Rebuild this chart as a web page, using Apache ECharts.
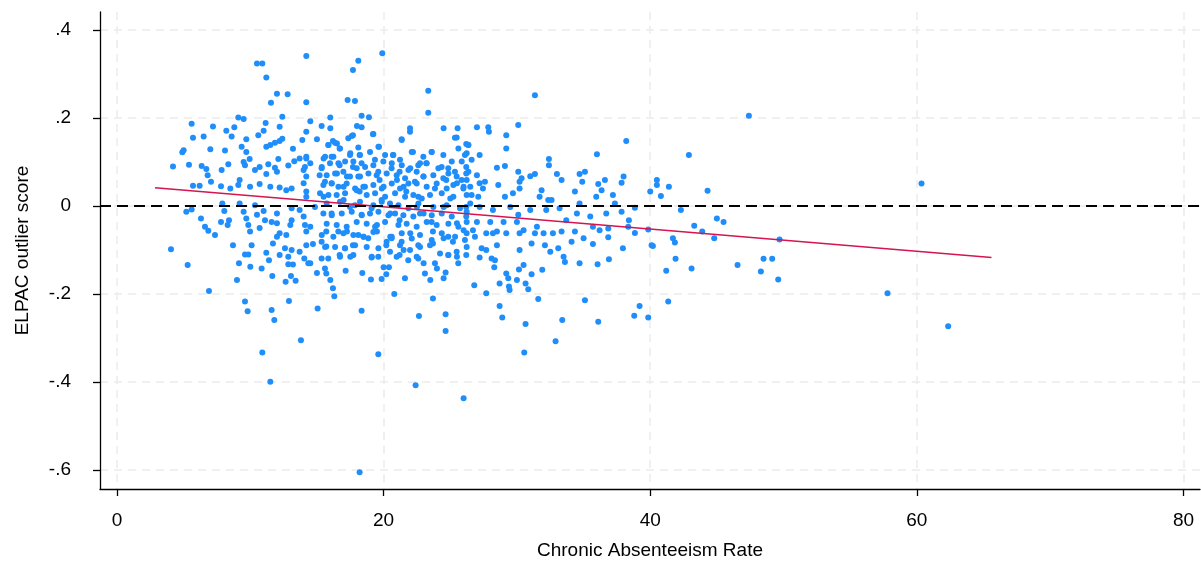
<!DOCTYPE html>
<html>
<head>
<meta charset="utf-8">
<title>ELPAC outlier score</title>
<script src="https://cdn.jsdelivr.net/npm/echarts@6/dist/echarts.min.js"></script>
</head>
<body style="margin:0">
<div id="main" style="width:1201px;height:568px;"></div>
<script>
// axis ticks
var xTicks = [0, 20, 40, 60, 80];
var yTicks = [-0.6, -0.4, -0.2, 0, 0.2, 0.4];

// fitted line
var fitX = [2.85, 65.6];
var fitY = [0.0417, -0.117];

// [chronic absenteeism rate, ELPAC outlier score], one per school
var schools = [
  [14.2,.341],[10.5,.324],[10.9,.324],[11.2,.292],[12.0,.255],[12.8,.254],[11.55,.235],[14.2,.236],
  [5.6,.187],[7.2,.181],[9.1,.201],[9.5,.198],[11.15,.189],[12.4,.203],[8.2,.171],[8.8,.179],[12.2,.180],
  [5.7,.155],[6.5,.158],[8.6,.158],[9.7,.152],[10.6,.161],[11.0,.171],[13.9,.150],[5.0,.127],[4.9,.122],
  [7.0,.129],[8.1,.126],[9.35,.135],[9.7,.123],[11.2,.135],[11.5,.139],[11.85,.144],[12.2,.148],[12.4,.153],
  [13.2,.13],[4.2,.09],[5.4,.094],[6.35,.091],[6.7,.084],[6.8,.07],[7.85,.082],[8.35,.095],[9.5,.1],
  [9.6,.093],[9.95,.107],[10.35,.082],[10.7,.089],[11.35,.095],[11.2,.073],[11.85,.087],[12.1,.107],
  [12.0,.078],[12.85,.092],[13.3,.102],[13.7,.108],[14.2,.112],[14.1,.089],[14.2,.067],[5.7,.046],
  [6.2,.046],[7.05,.055],[7.8,.045],[8.5,.04],[9.1,.048],[9.2,.059],[9.98,.044],[10.7,.05],[11.5,.044],
  [12.2,.042],[12.7,.036],[13.1,.04],[14.0,.052],[14.2,.033],[5.2,-.013],[5.6,-.008],[6.3,-.028],
  [6.6,-.047],[6.85,-.056],[7.35,-.066],[7.9,.006],[8.05,-.011],[7.8,-.036],[8.4,-.032],[8.3,-.043],
  [9.2,.006],[9.5,-.013],[9.7,-.028],[9.85,-.043],[9.98,-.058],[10.35,.002],[10.5,-.02],[11.0,-.011],
  [11.1,-.032],[10.7,-.05],[11.6,-.036],[12.0,-.017],[12.0,-.039],[12.2,-.062],[12.7,-.066],[13.0,-.043],
  [13.1,-.032],[13.1,-.005],[13.7,-.009],[14.0,-.024],[14.1,-.043],[14.2,-.058],
  [19.9,.347],[18.1,.33],[17.7,.309],[23.35,.262],[17.3,.241],[17.85,.239],[23.35,.212],[14.5,.193],
  [15.35,.182],[16.0,.177],[16.0,.201],[18.35,.205],[18.9,.202],[18.0,.182],[18.35,.179],[14.2,.169],
  [15.0,.152],[16.2,.148],[16.5,.142],[17.35,.154],[17.7,.161],[19.2,.163],[21.35,.152],[21.98,.177],
  [24.5,.177],[25.55,.177],[25.35,.155],[26.2,.141],[19.65,.135],[18.1,.133],[15.85,.139],[16.7,.131],
  [17.5,.12],[18.2,.116],[14.2,.108],[14.5,.097],[14.0,.082],[15.5,.108],[16.1,.112],[15.35,.086],
  [15.2,.07],[15.6,.055],[16.1,.052],[16.7,.093],[16.5,.074],[17.0,.044],[17.25,.067],[17.7,.089],
  [18.35,.097],[18.1,.067],[18.6,.044],[18.2,.033],[19.35,.105],[19.6,.078],[19.7,.059],[20.0,.044],
  [20.7,.116],[20.6,.086],[21.2,.078],[21.0,.059],[21.5,.044],[22.2,.123],[22.0,.086],[22.6,.093],
  [23.2,.097],[23.0,.067],[22.35,.055],[21.7,.033],[23.6,.123],[24.35,.089],[24.85,.086],[25.35,.078],
  [24.7,.059],[25.5,.052],[23.85,.04],[26.1,.116],[26.2,.089],[26.0,.044],[14.2,.021],[14.85,-.002],
  [15.5,.021],[16.1,-.017],[17.0,.014],[17.85,.002],[18.35,-.02],[19.1,-.005],[19.85,.014],[20.5,-.017],
  [21.2,-.032],[22.6,.021],[22.5,-.002],[23.0,-.017],[23.6,-.036],[24.5,-.002],[25.0,.017],[25.5,-.039],
  [26.2,-.002],[14.5,-.047],[15.7,-.058],[17.25,-.058],[18.5,-.07],[19.5,-.043],[20.5,-.07],[22.0,-.062],
  [23.7,-.058],[24.85,-.07],[26.0,-.055],
  [31.35,.252],[27.0,.179],[27.85,.179],[27.9,.169],[30.1,.184],[29.2,.161],[38.2,.148],[26.35,.139],
  [27.2,.116],[26.6,.105],[29.2,.131],[36.0,.118],[32.4,.107],[32.4,.093],[28.5,.087],[29.1,.091],
  [30.1,.078],[30.35,.063],[30.2,.055],[31.35,.073],[31.0,.068],[33.0,.073],[33.35,.059],[34.7,.073],
  [35.1,.078],[34.9,.055],[36.1,.05],[36.6,.059],[38.0,.067],[37.85,.053],[26.2,.074],[25.85,.059],
  [27.0,.07],[27.2,.052],[27.6,.055],[27.45,.04],[26.5,.044],[26.6,.025],[27.1,.021],[28.6,.048],
  [29.1,.021],[29.7,.029],[30.2,.04],[31.85,.036],[31.7,.021],[32.35,.014],[32.6,.014],[34.35,.033],
  [34.7,.006],[35.95,.021],[36.35,.036],[37.2,.025],[37.35,.006],[36.7,-.017],[37.85,-.013],[26.5,.006],
  [27.2,-.002],[28.2,-.009],[29.5,-.002],[30.1,-.02],[31.0,-.009],[32.2,-.009],[33.2,-.005],[34.5,-.017],
  [35.5,-.024],[26.2,-.024],[27.0,-.036],[28.0,-.036],[29.0,-.036],[30.0,-.036],[30.5,-.055],[31.5,-.047],
  [32.7,-.062],[33.7,-.032],[34.35,-.058],[35.7,-.047],[36.85,-.051],[26.7,-.055],[27.7,-.062],
  [28.5,-.058],[29.2,-.062],[31.35,-.062],[32.0,-.062],
  [47.4,.205],[42.9,.116],[40.5,.059],[40.5,.048],[40.8,.023],[40.0,.033],[41.4,.044],[44.3,.035],
  [38.85,-.004],[42.3,-.009],[45.0,-.028],[45.5,-.036],[38.4,-.032],[38.35,-.047],[38.85,-.061],
  [39.85,-.053],[43.3,-.045],[43.9,-.058],[41.7,-.073],[44.8,-.073],[49.7,-.076],
  [37.95,-.096],[40.1,-.089],[40.2,-.091],[41.85,-.083],[41.9,-.12],[41.2,-.147],[43.1,-.142],
  [46.55,-.134],[48.5,-.12],[49.15,-.12],[48.3,-.149],[49.6,-.167],[39.2,-.227],[38.8,-.249],
  [39.85,-.253],[41.35,-.217],[60.35,.051],[57.8,-.198],[62.35,-.273],
  [4.05,-.098],[5.3,-.134],[6.9,-.193],[8.7,-.089],[9.15,-.13],[9.0,-.168],[9.6,-.11],[9.85,-.11],
  [10.1,-.089],[10.0,-.138],[10.85,-.142],[11.2,-.106],[11.4,-.123],[11.65,-.159],[11.7,-.085],
  [12.0,-.07],[12.6,-.096],[12.2,-.111],[12.85,-.115],[13.1,-.1],[13.7,-.104],[14.05,-.119],[12.85,-.132],
  [13.2,-.133],[13.05,-.159],[12.65,-.172],[13.4,-.17],[14.35,-.13],[9.6,-.217],[9.8,-.239],[12.9,-.216],
  [11.6,-.236],[11.8,-.259],[13.8,-.305],[10.9,-.333],[11.5,-.399],
  [15.05,-.233],[18.35,-.238],[19.6,-.337],[16.2,-.187],[16.3,-.205],[16.0,-.168],[20.8,-.2],[23.7,-.21],
  [22.65,-.25],[24.65,-.246],[24.65,-.284],[22.4,-.407],[26.0,-.437],[15.0,-.152],[15.6,-.142],
  [15.7,-.153],[17.15,-.147],[18.4,-.152],[19.05,-.167],[19.85,-.166],[20.2,-.155],[20.4,-.139],
  [20.0,-.139],[21.6,-.164],[23.1,-.153],[23.5,-.168],[24.5,-.164],[24.65,-.151],[24.0,-.142],
  [14.5,-.13],[15.35,-.119],[15.85,-.119],[16.7,-.111],[17.5,-.115],[19.1,-.117],[19.6,-.115],
  [21.2,-.111],[21.85,-.123],[22.6,-.119],[23.0,-.13],[23.85,-.13],[24.85,-.111],[25.5,-.115],
  [25.6,-.13],[26.2,-.111],[14.2,-.089],[14.7,-.086],[15.35,-.081],[15.7,-.092],[17.1,-.096],
  [17.7,-.089],[18.1,-.066],[18.85,-.073],[20.2,-.089],[20.6,-.073],[21.35,-.081],[21.5,-.1],
  [22.6,-.089],[23.7,-.085],[24.5,-.073],[25.2,-.081],[26.1,-.077],[16.6,-.058],[19.5,-.058],
  [30.55,-.333],[32.9,-.307],[30.65,-.268],[33.4,-.259],[36.1,-.263],[28.9,-.253],[28.7,-.227],
  [31.6,-.211],[35.1,-.214],[27.7,-.198],[26.8,-.18],[28.7,-.176],[29.4,-.183],[29.45,-.191],
  [30.0,-.168],[30.65,-.176],[30.85,-.189],[29.2,-.153],[29.35,-.164],[30.15,-.144],[30.5,-.134],
  [31.1,-.155],[31.9,-.145],[28.3,-.139],[27.2,-.117],[28.1,-.119],[28.35,-.123],[33.6,-.127],
  [33.5,-.115],[34.7,-.13],[36.05,-.132],[36.9,-.121],[26.85,-.07],[27.35,-.096],[27.7,-.1],
  [28.5,-.089],[30.2,-.1],[31.1,-.085],[32.1,-.089],[32.5,-.104],[33.1,-.096],[34.1,-.081],[35.0,-.073],
  [35.7,-.086],[36.85,-.071],[36.2,-.055],[28.2,-.062],[30.2,-.062],[33.35,-.058],
  [18.2,-.605],
  // dense centre, read from a close-up
  [15.86,.139],[16.36,.144],[17.61,.159],[19.23,.164],[21.36,.15],[21.98,.169],[25.48,.156],[26.36,.139],
  [15.61,.112],[16.23,.112],[16.73,.131],[17.48,.116],[17.73,.101],[18.23,.116],[18.98,.123],[19.61,.135],
  [20.11,.116],[20.73,.116],[21.23,.105],[22.11,.123],[22.98,.112],[23.61,.123],[24.48,.116],[25.11,.101],
  [25.61,.131],[26.23,.12],[15.36,.089],[15.98,.097],[16.61,.097],[17.11,.101],[17.98,.086],[18.61,.089],
  [19.23,.093],[19.98,.101],[20.61,.097],[21.36,.093],[21.86,.082],[22.73,.097],[23.23,.097],[24.11,.086],
  [24.86,.074],[25.86,.101],[26.36,.078],[15.73,.07],[16.36,.074],[16.98,.078],[17.48,.067],[18.23,.067],
  [18.86,.074],[19.48,.07],[20.23,.074],[20.98,.07],[21.61,.063],[22.48,.078],[22.98,.067],[23.73,.07],
  [24.48,.063],[25.48,.067],[26.23,.059],[15.48,.048],[16.11,.051],[16.61,.044],[17.23,.051],[17.86,.04],
  [18.48,.044],[19.23,.048],[19.86,.04],[20.61,.051],[21.23,.04],[21.86,.051],[22.48,.051],[23.23,.044],
  [23.98,.051],[24.73,.04],[25.23,.048],[25.98,.04],[15.23,.029],[15.86,.025],[16.48,.025],[17.11,.029],
  [17.98,.036],[18.73,.025],[19.36,.029],[20.11,.021],[20.86,.029],[21.61,.021],[22.23,.025],[22.86,.017],
  [23.48,.025],[24.36,.029],[25.23,.021],[26.23,.025],[15.73,.006],[16.73,.01],[17.48,-.002],[18.23,.01],
  [19.23,.002],[19.86,.01],[20.48,.006],[21.11,.002],[21.86,-.005],[22.61,.006],[23.73,-.002],[24.73,.002],
  [25.73,-.005],[15.48,-.017],[16.11,-.021],[16.86,-.017],[17.61,-.013],[18.36,-.021],[18.98,-.017],
  [19.61,-.013],[20.36,-.021],[20.86,-.017],[21.48,-.021],[22.23,-.024],[22.73,-.017],[23.61,-.021],
  [24.36,-.017],[25.11,-.024],[26.23,-.013],[15.73,-.04],[16.48,-.043],[17.23,-.047],[17.98,-.036],
  [18.73,-.04],[19.36,-.047],[20.11,-.036],[21.11,-.043],[21.73,-.04],[22.48,-.047],[23.23,-.036],
  [23.98,-.043],[24.86,-.04],[25.61,-.047],[26.23,-.036],[15.36,-.066],[16.23,-.07],[16.98,-.062],
  [17.73,-.066],[18.48,-.07],[19.23,-.059],[20.23,-.081],[20.61,-.07],[21.36,-.062],[22.11,-.074],
  [22.73,-.066],[23.61,-.077],[24.36,-.062],[25.36,-.07],[26.23,-.062],[15.61,-.093],[16.36,-.093],
  [17.11,-.096],[17.86,-.089],[18.73,-.093],[19.61,-.096],[20.48,-.104],[21.23,-.089],[21.98,-.1],
  [22.73,-.093],[23.48,-.089],[24.23,-.108],[24.86,-.111],[25.48,-.104],[26.23,-.093],[16.73,-.115],
  [17.73,-.111],[19.11,-.115],[20.98,-.115],[22.48,-.115]
];

var myChart = echarts.init(document.getElementById('main'));

// Stata style labels: .4, -.2
function stataNum(v) {
  return String(v).replace('0.', '.');
}

var gridLine = { show: true, lineStyle: { color: '#ebebeb', type: [8, 6], width: 1.5 } };
var font = 'Liberation Sans, Arial, sans-serif';

var option = {
  animation: false,
  backgroundColor: '#fff',
  grid: { left: 100, right: 1, top: 12, bottom: 79 },
  xAxis: {
    type: 'value',
    min: -1.275,
    max: 81.24,
    name: 'Chronic Absenteeism Rate',
    nameLocation: 'middle',
    nameGap: 52,
    nameTextStyle: { color: '#000', fontSize: 19, fontFamily: font },
    axisLine: { show: true, onZero: false, lineStyle: { color: '#000', width: 1.3 } },
    axisTick: { show: true, length: 7, customValues: xTicks, lineStyle: { color: '#000', width: 1.3 } },
    axisLabel: { customValues: xTicks, color: '#000', fontSize: 19, fontFamily: font, margin: 22 },
    splitLine: gridLine
  },
  yAxis: {
    type: 'value',
    min: -0.643,
    max: 0.441,
    name: 'ELPAC outlier score',
    nameLocation: 'middle',
    nameGap: 68,
    nameTextStyle: { color: '#000', fontSize: 19, fontFamily: font },
    axisLine: { show: true, onZero: false, lineStyle: { color: '#000', width: 1.3 } },
    axisTick: { show: true, length: 7, customValues: yTicks, lineStyle: { color: '#000', width: 1.3 } },
    axisLabel: { customValues: yTicks, color: '#000', fontSize: 19, fontFamily: font, margin: 29,
      formatter: stataNum },
    splitLine: gridLine
  },
  series: [
    {
      type: 'scatter',
      data: [],
      z: 1,
      markLine: {
        silent: true,
        symbol: 'none',
        label: { show: false },
        lineStyle: { color: '#000', type: [11, 6], width: 2 },
        data: [{ yAxis: 0 }]
      }
    },
    {
      name: 'schools',
      type: 'scatter',
      data: schools,
      z: 2,
      symbolSize: 6,
      itemStyle: { color: '#1f8efa', opacity: 1 }
    },
    {
      name: 'fit',
      type: 'line',
      z: 3,
      data: [[fitX[0], fitY[0]], [fitX[1], fitY[1]]],
      showSymbol: false,
      lineStyle: { color: '#d6144f', width: 1.5 }
    }
  ]
};

myChart.setOption(option);
</script>
</body>
</html>
